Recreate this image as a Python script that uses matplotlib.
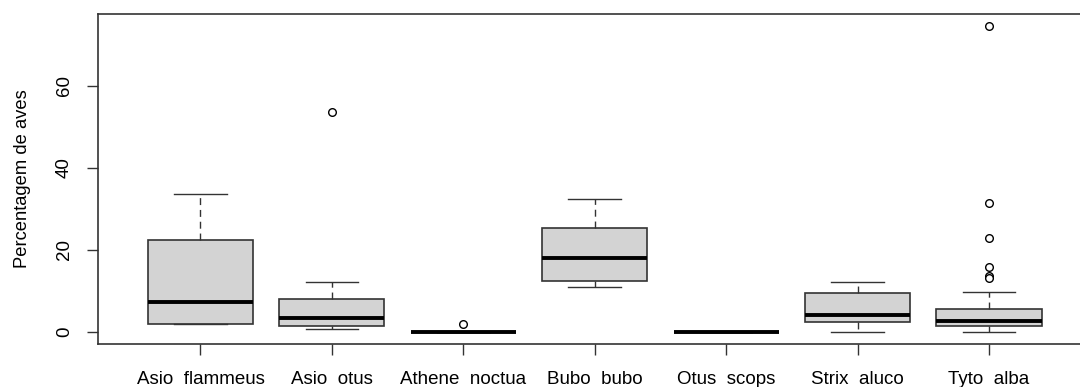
import matplotlib
matplotlib.use("Agg")
import matplotlib.pyplot as plt

plt.rcParams['font.family'] = ['Liberation Sans', 'DejaVu Sans']

species = ["Asio  flammeus", "Asio  otus", "Athene  noctua", "Bubo  bubo",
           "Otus  scops", "Strix  aluco", "Tyto  alba"]

# five-number summaries per species (lower whisker, Q1, median, Q3, upper whisker)
whislo = [2.0, 0.8, 0.0, 10.9, 0.0, 0.0, 0.0]
q1 = [2.0, 1.3, 0.0, 12.4, 0.0, 2.5, 1.3]
med = [7.3, 3.3, 0.0, 18.1, 0.0, 4.0, 2.6]
q3 = [22.5, 8.1, 0.0, 25.3, 0.0, 9.5, 5.5]
whishi = [33.5, 12.2, 0.0, 32.3, 0.0, 12.1, 9.8]
outliers = [[], [53.7], [1.8], [], [], [], [74.5, 31.5, 22.8, 15.7, 13.6, 13.1]]

stats = []
for i, name in enumerate(species):
    stats.append(dict(label=name, whislo=whislo[i], q1=q1[i], med=med[i],
                      q3=q3[i], whishi=whishi[i], fliers=outliers[i]))

fig = plt.figure(figsize=(10.8, 3.87), dpi=100)
ax = fig.add_axes([0.0907, 0.111, 0.92, 0.853])

ax.bxp(stats, widths=0.8, patch_artist=True,
       boxprops=dict(facecolor="#d3d3d3", edgecolor="#333333", linewidth=1.2),
       medianprops=dict(color="black", linewidth=2.8, solid_capstyle="butt"),
       whiskerprops=dict(color="#333333", linewidth=1.0, linestyle=(0, (5, 3.5))),
       capprops=dict(color="#333333", linewidth=1.0),
       capwidths=0.4,
       flierprops=dict(marker="o", markerfacecolor="white", markeredgecolor="black",
                       markersize=5.5, markeredgewidth=1.0))

ax.set_xlim(0.22, 7.78)
ax.set_ylim(-2.98, 77.5)
ax.set_yticks([0, 20, 40, 60])
ax.set_yticklabels(["0", "20", "40", "60"], rotation=90, va="center")
ax.tick_params(axis="both", length=8, width=1.0, color="#333333", labelsize=13.5)
ax.tick_params(axis="y", pad=10)
ax.tick_params(axis="x", pad=11.5)
ax.set_ylabel("Percentagem de aves", fontsize=13.2, labelpad=18)
for s in ax.spines.values():
    s.set_linewidth(1.2)
    s.set_color("#333333")

fig.savefig("out.png", dpi=100)
